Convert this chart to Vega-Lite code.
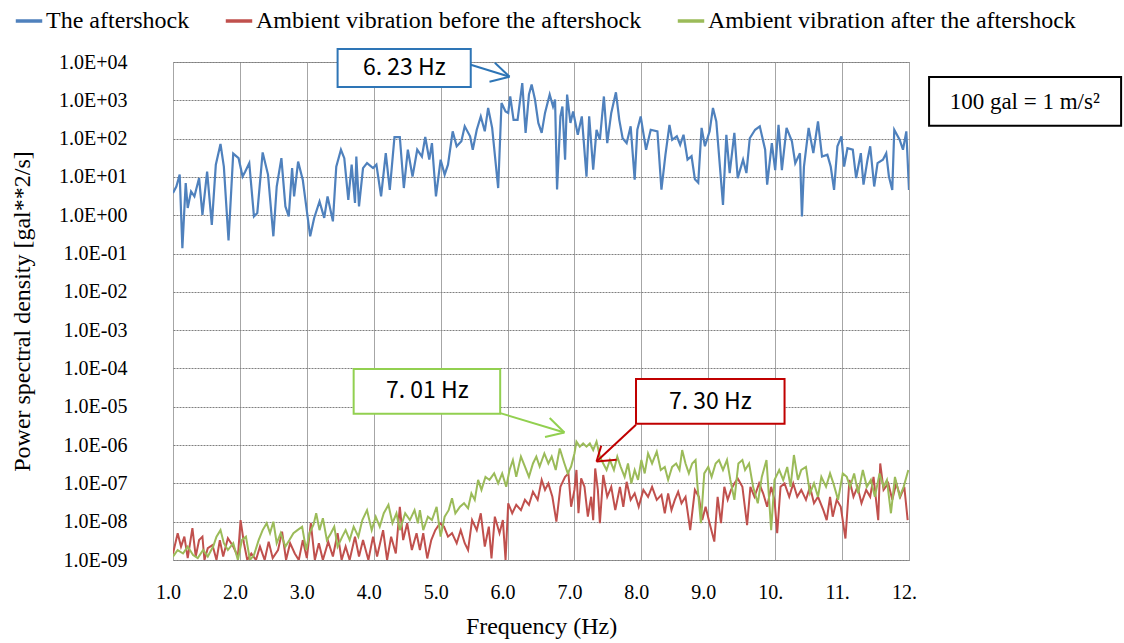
{
  "$schema": "https://vega.github.io/schema/vega-lite/v6.json",
  "width": 736,
  "height": 498,
  "autosize": "none",
  "padding": {"left": 173, "top": 62, "right": 215, "bottom": 83},
  "background": "white",
  "config": {
    "view": {"stroke": "#a6a6a6", "strokeWidth": 1},
    "font": "Liberation Serif",
    "axis": {"labelFont": "Liberation Serif", "titleFont": "Liberation Serif", "labelColor": "#000", "titleColor": "#000", "titleFontWeight": "normal", "domain": false, "ticks": false}
  },
  "datasets": {
    "blue": [
      {"f":1.00,"v":3.80},{"f":1.05,"v":5.62},{"f":1.10,"v":11.5},{"f":1.14,"v":0.138},{"f":1.19,"v":6.92},{"f":1.22,"v":1.55},{"f":1.27,"v":4.17},{"f":1.32,"v":3.09},{"f":1.39,"v":9.33},{"f":1.44,"v":1.02},
      {"f":1.51,"v":13.8},{"f":1.58,"v":0.562},{"f":1.64,"v":20.9},{"f":1.71,"v":72.4},{"f":1.76,"v":18.6},{"f":1.83,"v":0.219},{"f":1.90,"v":40.7},{"f":1.98,"v":30.9},{"f":2.04,"v":10.2},{"f":2.08,"v":13.8},
      {"f":2.14,"v":22.9},{"f":2.21,"v":0.933},{"f":2.26,"v":1.15},{"f":2.34,"v":43.7},{"f":2.42,"v":11.5},{"f":2.50,"v":0.282},{"f":2.55,"v":5.62},{"f":2.62,"v":30.9},{"f":2.68,"v":1.70},{"f":2.73,"v":0.933},
      {"f":2.78,"v":17.0},{"f":2.81,"v":3.09},{"f":2.87,"v":25.1},{"f":2.94,"v":8.32},{"f":3.05,"v":0.282},{"f":3.11,"v":0.851},{"f":3.19,"v":2.29},{"f":3.26,"v":0.851},{"f":3.31,"v":3.09},{"f":3.39,"v":0.692},
      {"f":3.44,"v":18.6},{"f":3.51,"v":51.3},{"f":3.56,"v":30.9},{"f":3.62,"v":2.51},{"f":3.67,"v":20.9},{"f":3.72,"v":2.09},{"f":3.74,"v":33.9},{"f":3.78,"v":1.70},{"f":3.84,"v":17.0},{"f":3.90,"v":22.9},
      {"f":3.99,"v":17.0},{"f":4.04,"v":20.9},{"f":4.11,"v":3.09},{"f":4.18,"v":41.7},{"f":4.24,"v":4.57},{"f":4.31,"v":110},{"f":4.39,"v":110},{"f":4.45,"v":5.13},{"f":4.51,"v":51.3},{"f":4.58,"v":10.2},
      {"f":4.65,"v":51.3},{"f":4.72,"v":33.9},{"f":4.77,"v":110},{"f":4.83,"v":28.2},{"f":4.87,"v":75.9},{"f":4.93,"v":3.09},{"f":5.00,"v":28.2},{"f":5.06,"v":11.5},{"f":5.11,"v":20.9},{"f":5.18,"v":155},
      {"f":5.24,"v":63.1},{"f":5.31,"v":85.1},{"f":5.36,"v":209},{"f":5.44,"v":115},{"f":5.48,"v":51.3},{"f":5.54,"v":170},{"f":5.60,"v":380},{"f":5.66,"v":155},{"f":5.71,"v":631},{"f":5.77,"v":191},
      {"f":5.86,"v":5.13},{"f":5.91,"v":851},{"f":5.97,"v":513},{"f":6.01,"v":468},{"f":6.04,"v":1259},{"f":6.09,"v":309},{"f":6.15,"v":309},{"f":6.22,"v":2818},{"f":6.27,"v":141},{"f":6.32,"v":1413},
      {"f":6.36,"v":2570},{"f":6.41,"v":1047},{"f":6.46,"v":257},{"f":6.51,"v":141},{"f":6.56,"v":468},{"f":6.63,"v":1413},{"f":6.68,"v":692},{"f":6.71,"v":1047},{"f":6.74,"v":4.68},{"f":6.79,"v":380},
      {"f":6.82,"v":692},{"f":6.86,"v":28.2},{"f":6.89,"v":1413},{"f":6.94,"v":257},{"f":6.98,"v":513},{"f":7.05,"v":126},{"f":7.11,"v":380},{"f":7.18,"v":10.2},{"f":7.22,"v":380},{"f":7.28,"v":15.5},
      {"f":7.33,"v":170},{"f":7.38,"v":93.3},{"f":7.44,"v":1259},{"f":7.49,"v":75.9},{"f":7.55,"v":468},{"f":7.62,"v":1622},{"f":7.67,"v":309},{"f":7.72,"v":102},{"f":7.78,"v":75.9},{"f":7.84,"v":209},
      {"f":7.90,"v":8.51},{"f":7.94,"v":170},{"f":7.99,"v":380},{"f":8.07,"v":51.3},{"f":8.14,"v":170},{"f":8.24,"v":155},{"f":8.30,"v":4.68},{"f":8.36,"v":38.0},{"f":8.42,"v":229},{"f":8.46,"v":93.3},
      {"f":8.53,"v":115},{"f":8.58,"v":69.2},{"f":8.63,"v":126},{"f":8.69,"v":28.2},{"f":8.75,"v":34.7},{"f":8.80,"v":8.71},{"f":8.85,"v":7.08},{"f":8.90,"v":191},{"f":8.95,"v":63.1},{"f":9.02,"v":155},
      {"f":9.07,"v":631},{"f":9.12,"v":282},{"f":9.22,"v":1.86},{"f":9.27,"v":126},{"f":9.32,"v":12.6},{"f":9.39,"v":141},{"f":9.44,"v":9.33},{"f":9.52,"v":28.2},{"f":9.57,"v":12.6},{"f":9.62,"v":102},
      {"f":9.70,"v":170},{"f":9.77,"v":209},{"f":9.85,"v":51.3},{"f":9.88,"v":6.31},{"f":9.95,"v":75.9},{"f":10.00,"v":15.1},{"f":10.05,"v":229},{"f":10.10,"v":15.1},{"f":10.17,"v":191},{"f":10.25,"v":85.1},
      {"f":10.30,"v":22.9},{"f":10.37,"v":41.7},{"f":10.40,"v":0.933},{"f":10.43,"v":18.6},{"f":10.50,"v":191},{"f":10.57,"v":41.7},{"f":10.64,"v":282},{"f":10.70,"v":33.9},{"f":10.78,"v":38.0},{"f":10.83,"v":18.6},
      {"f":10.88,"v":4.57},{"f":10.93,"v":63.1},{"f":10.99,"v":115},{"f":11.03,"v":18.6},{"f":11.08,"v":56.2},{"f":11.16,"v":51.3},{"f":11.21,"v":9.33},{"f":11.28,"v":41.7},{"f":11.32,"v":6.31},{"f":11.38,"v":28.2},
      {"f":11.42,"v":63.1},{"f":11.48,"v":5.62},{"f":11.53,"v":22.9},{"f":11.61,"v":28.2},{"f":11.66,"v":41.7},{"f":11.70,"v":10.2},{"f":11.75,"v":4.57},{"f":11.78,"v":170},{"f":11.86,"v":93.3},{"f":11.91,"v":51.3},
      {"f":11.96,"v":155},{"f":12.00,"v":4.57}
    ],
    "red": [
      {"f":1.00,"v":1.48e-9},{"f":1.07,"v":5.01e-9},{"f":1.12,"v":2.24e-9},{"f":1.17,"v":4.07e-9},{"f":1.22,"v":1.12e-9},{"f":1.29,"v":6.76e-9},{"f":1.34,"v":1.23e-9},{"f":1.39,"v":3.31e-9},{"f":1.44,"v":4.07e-9},{"f":1.47,"v":1.0e-9},
      {"f":1.52,"v":2.04e-9},{"f":1.59,"v":2.45e-9},{"f":1.65,"v":1.0e-9},{"f":1.70,"v":3.31e-9},{"f":1.75,"v":1.23e-9},{"f":1.82,"v":3.72e-9},{"f":1.90,"v":2.24e-9},{"f":1.97,"v":1.23e-9},{"f":2.01,"v":1.10e-8},{"f":2.06,"v":2.75e-9},
      {"f":2.11,"v":1.0e-9},{"f":2.17,"v":1.48e-9},{"f":2.24,"v":1.0e-9},{"f":2.30,"v":2.24e-9},{"f":2.37,"v":1.0e-9},{"f":2.43,"v":3.02e-9},{"f":2.49,"v":1.12e-9},{"f":2.57,"v":1.82e-9},{"f":2.63,"v":5.50e-9},{"f":2.69,"v":1.0e-9},
      {"f":2.75,"v":2.75e-9},{"f":2.82,"v":1.48e-9},{"f":2.88,"v":1.0e-9},{"f":2.94,"v":3.31e-9},{"f":3.00,"v":1.12e-9},{"f":3.06,"v":9.12e-9},{"f":3.12,"v":1.0e-9},{"f":3.18,"v":2.75e-9},{"f":3.24,"v":1.0e-9},{"f":3.32,"v":3.02e-9},
      {"f":3.39,"v":1.23e-9},{"f":3.46,"v":5.01e-9},{"f":3.52,"v":1.0e-9},{"f":3.58,"v":2.24e-9},{"f":3.64,"v":1.0e-9},{"f":3.72,"v":4.07e-9},{"f":3.78,"v":1.23e-9},{"f":3.84,"v":3.31e-9},{"f":3.92,"v":1.0e-9},{"f":3.99,"v":4.07e-9},
      {"f":4.05,"v":1.23e-9},{"f":4.14,"v":6.03e-9},{"f":4.20,"v":1.0e-9},{"f":4.26,"v":4.07e-9},{"f":4.33,"v":1.48e-9},{"f":4.39,"v":2.45e-8},{"f":4.44,"v":3.31e-9},{"f":4.50,"v":9.12e-9},{"f":4.57,"v":1.82e-9},{"f":4.64,"v":5.01e-9},
      {"f":4.69,"v":1.82e-9},{"f":4.74,"v":5.01e-9},{"f":4.80,"v":1.10e-9},{"f":4.86,"v":3.31e-9},{"f":4.92,"v":6.03e-9},{"f":4.99,"v":9.12e-9},{"f":5.05,"v":7.41e-9},{"f":5.11,"v":4.07e-9},{"f":5.17,"v":5.01e-9},{"f":5.24,"v":2.75e-9},
      {"f":5.30,"v":6.03e-9},{"f":5.36,"v":2.75e-9},{"f":5.41,"v":1.82e-9},{"f":5.47,"v":1.10e-8},{"f":5.54,"v":6.03e-9},{"f":5.60,"v":1.66e-8},{"f":5.66,"v":2.24e-9},{"f":5.72,"v":7.41e-9},{"f":5.76,"v":1.10e-9},{"f":5.81,"v":1.35e-8},
      {"f":5.88,"v":5.01e-9},{"f":5.93,"v":1.10e-8},{"f":5.97,"v":1.0e-9},{"f":6.01,"v":3.02e-8},{"f":6.07,"v":1.66e-8},{"f":6.13,"v":2.75e-8},{"f":6.20,"v":2.00e-8},{"f":6.26,"v":3.72e-8},{"f":6.32,"v":2.75e-8},{"f":6.38,"v":6.03e-8},
      {"f":6.45,"v":3.72e-8},{"f":6.51,"v":1.23e-7},{"f":6.56,"v":6.76e-8},{"f":6.61,"v":1.0e-7},{"f":6.67,"v":4.47e-8},{"f":6.73,"v":1.0e-8},{"f":6.79,"v":8.13e-8},{"f":6.86,"v":1.48e-7},{"f":6.91,"v":1.82e-7},{"f":6.95,"v":2.45e-8},
      {"f":7.00,"v":6.76e-8},{"f":7.03,"v":2.24e-7},{"f":7.06,"v":1.66e-8},{"f":7.10,"v":1.35e-7},{"f":7.15,"v":8.13e-8},{"f":7.20,"v":1.35e-8},{"f":7.25,"v":4.47e-8},{"f":7.28,"v":1.10e-8},{"f":7.31,"v":2.45e-7},{"f":7.35,"v":6.76e-8},
      {"f":7.38,"v":9.12e-9},{"f":7.43,"v":1.66e-7},{"f":7.49,"v":4.47e-8},{"f":7.55,"v":8.13e-8},{"f":7.61,"v":2.00e-8},{"f":7.68,"v":8.13e-8},{"f":7.73,"v":2.45e-8},{"f":7.78,"v":1.10e-7},{"f":7.84,"v":3.72e-8},{"f":7.90,"v":5.50e-8},
      {"f":7.96,"v":2.45e-8},{"f":8.03,"v":6.76e-8},{"f":8.10,"v":4.47e-8},{"f":8.16,"v":8.13e-8},{"f":8.23,"v":3.72e-8},{"f":8.30,"v":5.01e-8},{"f":8.35,"v":1.66e-8},{"f":8.40,"v":5.50e-8},{"f":8.45,"v":2.00e-8},{"f":8.50,"v":3.72e-8},
      {"f":8.55,"v":6.03e-8},{"f":8.60,"v":3.02e-8},{"f":8.66,"v":4.47e-8},{"f":8.73,"v":6.03e-9},{"f":8.80,"v":6.76e-8},{"f":8.86,"v":4.47e-8},{"f":8.91,"v":1.10e-8},{"f":8.96,"v":2.45e-8},{"f":9.02,"v":9.12e-9},{"f":9.09,"v":3.02e-9},
      {"f":9.14,"v":4.47e-8},{"f":9.19,"v":9.12e-9},{"f":9.24,"v":8.13e-8},{"f":9.29,"v":3.72e-8},{"f":9.34,"v":6.76e-8},{"f":9.39,"v":1.0e-7},{"f":9.44,"v":1.35e-7},{"f":9.51,"v":8.13e-8},{"f":9.58,"v":8.13e-9},{"f":9.63,"v":8.13e-8},
      {"f":9.69,"v":4.47e-8},{"f":9.76,"v":1.0e-7},{"f":9.82,"v":5.50e-8},{"f":9.88,"v":2.45e-8},{"f":9.94,"v":8.13e-8},{"f":9.99,"v":3.72e-8},{"f":10.03,"v":5.01e-9},{"f":10.08,"v":8.13e-8},{"f":10.14,"v":1.0e-7},{"f":10.21,"v":4.47e-8},
      {"f":10.27,"v":1.0e-7},{"f":10.33,"v":4.47e-8},{"f":10.39,"v":6.76e-8},{"f":10.46,"v":3.72e-8},{"f":10.52,"v":8.13e-8},{"f":10.58,"v":3.02e-8},{"f":10.64,"v":4.47e-8},{"f":10.72,"v":2.00e-8},{"f":10.77,"v":1.10e-8},{"f":10.82,"v":4.47e-8},
      {"f":10.86,"v":1.35e-8},{"f":10.92,"v":3.72e-8},{"f":10.98,"v":2.45e-8},{"f":11.05,"v":3.63e-9},{"f":11.11,"v":1.23e-7},{"f":11.17,"v":4.47e-8},{"f":11.23,"v":8.13e-8},{"f":11.29,"v":3.02e-8},{"f":11.36,"v":6.76e-8},{"f":11.42,"v":4.47e-8},
      {"f":11.47,"v":1.48e-7},{"f":11.54,"v":1.10e-8},{"f":11.57,"v":3.31e-7},{"f":11.62,"v":6.76e-8},{"f":11.69,"v":1.0e-7},{"f":11.75,"v":3.72e-8},{"f":11.81,"v":1.0e-7},{"f":11.87,"v":4.47e-8},{"f":11.93,"v":8.13e-8},{"f":11.98,"v":1.10e-8}
    ],
    "green": [
      {"f":1.00,"v":1.23e-9},{"f":1.07,"v":1.82e-9},{"f":1.15,"v":1.48e-9},{"f":1.22,"v":2.24e-9},{"f":1.30,"v":1.35e-9},{"f":1.37,"v":1.12e-9},{"f":1.45,"v":1.82e-9},{"f":1.52,"v":1.23e-9},{"f":1.60,"v":2.24e-9},{"f":1.65,"v":4.07e-9},
      {"f":1.71,"v":6.03e-9},{"f":1.76,"v":2.75e-9},{"f":1.82,"v":1.82e-9},{"f":1.90,"v":2.75e-9},{"f":1.97,"v":1.0e-9},{"f":2.03,"v":3.31e-9},{"f":2.09,"v":4.07e-9},{"f":2.15,"v":1.0e-9},{"f":2.21,"v":1.35e-9},{"f":2.28,"v":3.31e-9},
      {"f":2.34,"v":6.03e-9},{"f":2.40,"v":9.12e-9},{"f":2.45,"v":5.01e-9},{"f":2.50,"v":1.0e-8},{"f":2.55,"v":2.75e-9},{"f":2.61,"v":5.01e-9},{"f":2.68,"v":2.24e-9},{"f":2.74,"v":3.31e-9},{"f":2.80,"v":5.01e-9},{"f":2.86,"v":6.03e-9},
      {"f":2.93,"v":7.41e-9},{"f":2.99,"v":1.82e-9},{"f":3.04,"v":5.01e-9},{"f":3.10,"v":8.32e-9},{"f":3.14,"v":1.66e-8},{"f":3.19,"v":6.03e-9},{"f":3.24,"v":1.23e-8},{"f":3.30,"v":3.31e-9},{"f":3.36,"v":5.01e-9},{"f":3.41,"v":7.41e-9},
      {"f":3.46,"v":2.24e-9},{"f":3.53,"v":4.07e-9},{"f":3.58,"v":6.03e-9},{"f":3.64,"v":3.31e-9},{"f":3.70,"v":7.41e-9},{"f":3.77,"v":4.07e-9},{"f":3.83,"v":1.10e-8},{"f":3.90,"v":2.00e-8},{"f":3.97,"v":6.03e-9},{"f":4.03,"v":1.35e-8},
      {"f":4.09,"v":7.41e-9},{"f":4.15,"v":1.66e-8},{"f":4.22,"v":2.75e-8},{"f":4.28,"v":9.12e-9},{"f":4.34,"v":1.66e-8},{"f":4.39,"v":6.03e-9},{"f":4.47,"v":1.66e-8},{"f":4.54,"v":1.10e-8},{"f":4.61,"v":2.00e-8},{"f":4.66,"v":9.12e-9},
      {"f":4.69,"v":2.00e-8},{"f":4.74,"v":6.03e-9},{"f":4.81,"v":1.35e-8},{"f":4.87,"v":1.10e-8},{"f":4.94,"v":2.45e-8},{"f":5.00,"v":4.07e-9},{"f":5.06,"v":1.35e-8},{"f":5.12,"v":2.00e-8},{"f":5.17,"v":4.07e-8},{"f":5.22,"v":1.66e-8},
      {"f":5.29,"v":2.45e-8},{"f":5.35,"v":3.02e-8},{"f":5.41,"v":2.24e-8},{"f":5.46,"v":5.50e-8},{"f":5.51,"v":3.72e-8},{"f":5.56,"v":1.23e-7},{"f":5.61,"v":6.76e-8},{"f":5.67,"v":1.48e-7},{"f":5.73,"v":1.23e-7},{"f":5.80,"v":1.82e-7},
      {"f":5.86,"v":1.0e-7},{"f":5.92,"v":1.82e-7},{"f":5.98,"v":8.13e-8},{"f":6.03,"v":2.24e-7},{"f":6.08,"v":4.07e-7},{"f":6.13,"v":1.48e-7},{"f":6.20,"v":5.01e-7},{"f":6.26,"v":2.75e-7},{"f":6.32,"v":1.48e-7},{"f":6.38,"v":3.31e-7},
      {"f":6.43,"v":5.01e-7},{"f":6.48,"v":2.75e-7},{"f":6.55,"v":6.03e-7},{"f":6.61,"v":3.31e-7},{"f":6.66,"v":5.01e-7},{"f":6.72,"v":2.24e-7},{"f":6.78,"v":8.13e-7},{"f":6.85,"v":3.31e-7},{"f":6.90,"v":1.82e-7},{"f":6.95,"v":2.75e-7},
      {"f":7.00,"v":6.03e-7},{"f":7.03,"v":1.23e-6},{"f":7.08,"v":9.12e-7},{"f":7.13,"v":1.10e-6},{"f":7.18,"v":9.12e-7},{"f":7.23,"v":1.10e-6},{"f":7.28,"v":7.41e-7},{"f":7.33,"v":1.23e-6},{"f":7.38,"v":5.01e-7},{"f":7.43,"v":3.31e-7},
      {"f":7.48,"v":2.24e-7},{"f":7.53,"v":4.07e-7},{"f":7.59,"v":2.24e-7},{"f":7.64,"v":5.01e-7},{"f":7.69,"v":2.75e-7},{"f":7.75,"v":1.48e-7},{"f":7.80,"v":3.31e-7},{"f":7.85,"v":1.0e-7},{"f":7.90,"v":2.24e-7},{"f":7.95,"v":1.23e-7},
      {"f":8.00,"v":4.07e-7},{"f":8.05,"v":1.82e-7},{"f":8.10,"v":6.03e-7},{"f":8.16,"v":3.31e-7},{"f":8.23,"v":6.76e-7},{"f":8.29,"v":2.24e-7},{"f":8.35,"v":2.69e-7},{"f":8.40,"v":1.23e-7},{"f":8.46,"v":2.69e-7},{"f":8.52,"v":3.31e-7},
      {"f":8.57,"v":2.24e-7},{"f":8.61,"v":7.41e-7},{"f":8.66,"v":3.31e-7},{"f":8.71,"v":1.82e-7},{"f":8.76,"v":3.31e-7},{"f":8.81,"v":4.07e-7},{"f":8.84,"v":8.13e-8},{"f":8.89,"v":9.12e-9},{"f":8.94,"v":1.82e-7},{"f":9.00,"v":2.69e-7},
      {"f":9.05,"v":1.48e-7},{"f":9.11,"v":3.31e-7},{"f":9.16,"v":4.07e-7},{"f":9.22,"v":2.24e-7},{"f":9.28,"v":4.07e-7},{"f":9.33,"v":1.23e-7},{"f":9.39,"v":3.72e-8},{"f":9.45,"v":3.31e-7},{"f":9.51,"v":4.07e-7},{"f":9.55,"v":2.24e-7},
      {"f":9.61,"v":3.31e-7},{"f":9.67,"v":8.13e-8},{"f":9.74,"v":3.02e-8},{"f":9.80,"v":1.48e-7},{"f":9.87,"v":4.07e-7},{"f":9.94,"v":6.03e-9},{"f":9.99,"v":1.23e-7},{"f":10.06,"v":2.24e-7},{"f":10.12,"v":1.23e-7},{"f":10.18,"v":2.69e-7},
      {"f":10.23,"v":8.13e-8},{"f":10.28,"v":5.50e-7},{"f":10.34,"v":1.23e-7},{"f":10.39,"v":2.24e-7},{"f":10.46,"v":2.69e-7},{"f":10.52,"v":5.50e-8},{"f":10.58,"v":1.0e-7},{"f":10.64,"v":4.47e-8},{"f":10.69,"v":1.48e-7},{"f":10.76,"v":8.13e-8},
      {"f":10.82,"v":1.82e-7},{"f":10.87,"v":1.0e-7},{"f":10.94,"v":3.72e-8},{"f":11.01,"v":1.82e-7},{"f":11.07,"v":1.48e-7},{"f":11.12,"v":8.13e-8},{"f":11.18,"v":1.82e-7},{"f":11.24,"v":5.50e-8},{"f":11.31,"v":2.24e-7},{"f":11.37,"v":8.13e-8},
      {"f":11.43,"v":1.23e-7},{"f":11.49,"v":4.47e-8},{"f":11.56,"v":1.82e-7},{"f":11.62,"v":8.13e-8},{"f":11.67,"v":1.23e-7},{"f":11.73,"v":1.66e-8},{"f":11.79,"v":1.48e-7},{"f":11.86,"v":4.47e-8},{"f":11.92,"v":8.13e-8},{"f":11.99,"v":2.24e-7}
    ],
    "boxes": [
      {"f": 3.46, "f2": 5.45, "v": 2.22e3, "v2": 2.18e4, "k": "blue"},
      {"f": 3.70, "f2": 5.89, "v": 6.56e-6, "v2": 9.64e-5, "k": "green"},
      {"f": 7.92, "f2": 10.14, "v": 3.6e-6, "v2": 5.28e-5, "k": "red"},
      {"f": 12.30, "f2": 15.17, "v": 2.17e2, "v2": 4.06e3, "k": "note"}
    ],
    "arrows": [
      {"f": 5.45, "v": 8.5e3, "f2": 6.03, "v2": 4.13e3, "k": "blue"},
      {"f": 5.81, "v": 9.55e3, "f2": 6.03, "v2": 4.13e3, "k": "blue"},
      {"f": 5.73, "v": 3.06e3, "f2": 6.03, "v2": 4.13e3, "k": "blue"},
      {"f": 5.89, "v": 6.84e-6, "f2": 6.85, "v2": 2.13e-6, "k": "green"},
      {"f": 6.63, "v": 5.07e-6, "f2": 6.85, "v2": 2.13e-6, "k": "green"},
      {"f": 6.56, "v": 1.62e-6, "f2": 6.85, "v2": 2.13e-6, "k": "green"},
      {"f": 7.92, "v": 3.39e-6, "f2": 7.33, "v2": 3.73e-7, "k": "red"},
      {"f": 7.63, "v": 4.13e-7, "f2": 7.33, "v2": 3.73e-7, "k": "red"},
      {"f": 7.40, "v": 9.6e-7, "f2": 7.33, "v2": 3.73e-7, "k": "red"}
    ]
  },
  "layer": [
    {
      "data": {"name": "blue"},
      "mark": {"type": "line", "strokeWidth": 2.2, "clip": true},
      "encoding": {
        "x": {"field": "f", "type": "quantitative", "scale": {"domain": [1, 12], "nice": false, "zero": false},
          "axis": {"values": [1,2,3,4,5,6,7,8,9,10,11,12], "labelExpr": "datum.value < 10 ? format(datum.value, '.1f') : format(datum.value, 'd') + '.'", "labelFontSize": 20, "labelPadding": 22, "labelFlush": false, "labelOffset": -5, "grid": true, "gridColor": "#a6a6a6", "gridWidth": 1, "title": "Frequency (Hz)", "titleFontSize": 24, "titlePadding": 12}},
        "y": {"field": "v", "type": "quantitative", "scale": {"type": "log", "domain": [1e-9, 1e4], "nice": false},
          "axis": {"values": [1e-9,1e-8,1e-7,1e-6,1e-5,1e-4,1e-3,1e-2,1e-1,1,10,100,1000,10000], "labelExpr": "'1.0E' + (datum.value >= 1 ? '+' : '-') + (abs(round(log(datum.value)/LN10)) < 10 ? '0' : '') + abs(round(log(datum.value)/LN10))", "labelFontSize": 20, "labelPadding": 46, "grid": true, "gridColor": "#7f7f7f", "gridDash": [2, 1], "gridWidth": 1, "title": "Power spectral density [gal**2/s]", "titleFontSize": 24, "titlePadding": 24}},
        "color": {"datum": "The aftershock", "type": "nominal",
          "scale": {"domain": ["The aftershock", "Ambient vibration before the aftershock", "Ambient vibration after the aftershock"], "range": ["#4f81bd", "#c0504d", "#9bbb59"]},
          "legend": {"title": null, "orient": "none", "legendX": -159, "legendY": -56, "direction": "horizontal", "symbolType": "stroke", "symbolStrokeWidth": 3.5, "symbolSize": 700, "labelFont": "Liberation Serif", "labelFontSize": 24, "labelColor": "#000", "labelOffset": 2, "columnPadding": 28, "padding": 0, "labelLimit": 500}}
      }
    },
    {
      "data": {"name": "red"},
      "mark": {"type": "line", "strokeWidth": 2, "clip": true},
      "encoding": {
        "x": {"field": "f", "type": "quantitative"},
        "y": {"field": "v", "type": "quantitative"},
        "color": {"datum": "Ambient vibration before the aftershock", "type": "nominal"}
      }
    },
    {
      "data": {"name": "green"},
      "mark": {"type": "line", "strokeWidth": 2, "clip": true},
      "encoding": {
        "x": {"field": "f", "type": "quantitative"},
        "y": {"field": "v", "type": "quantitative"},
        "color": {"datum": "Ambient vibration after the aftershock", "type": "nominal"}
      }
    },
    {
      "data": {"name": "boxes"},
      "mark": {"type": "rect", "fill": "white", "strokeWidth": 2},
      "encoding": {
        "x": {"field": "f", "type": "quantitative"}, "x2": {"field": "f2"},
        "y": {"field": "v", "type": "quantitative"}, "y2": {"field": "v2"},
        "stroke": {"field": "k", "type": "nominal", "scale": {"domain": ["blue", "green", "red", "note"], "range": ["#2e75b6", "#92d050", "#c00000", "#000000"]}, "legend": null}
      }
    },
    {
      "data": {"name": "arrows"},
      "mark": {"type": "rule", "strokeWidth": 2},
      "encoding": {
        "x": {"field": "f", "type": "quantitative"}, "y": {"field": "v", "type": "quantitative"},
        "x2": {"field": "f2"}, "y2": {"field": "v2"},
        "stroke": {"field": "k", "type": "nominal", "legend": null}
      }
    },
    {
      "data": {"values": [
        {"f": 4.456, "v": 6.96e3, "t": "6. 23 Hz"},
        {"f": 4.80, "v": 2.51e-5, "t": "7. 01 Hz"},
        {"f": 9.03, "v": 1.37e-5, "t": "7. 30 Hz"}
      ]},
      "mark": {"type": "text", "font": "Noto Sans CJK JP", "fontSize": 23, "color": "#000", "align": "center", "baseline": "middle"},
      "encoding": {"x": {"field": "f", "type": "quantitative"}, "y": {"field": "v", "type": "quantitative"}, "text": {"field": "t"}}
    },
    {
      "data": {"values": [{"f": 13.73, "v": 918, "t": "100 gal = 1 m/s²"}]},
      "mark": {"type": "text", "font": "Liberation Serif", "fontSize": 23, "color": "#000", "align": "center", "baseline": "middle"},
      "encoding": {"x": {"field": "f", "type": "quantitative"}, "y": {"field": "v", "type": "quantitative"}, "text": {"field": "t"}}
    }
  ]
}
